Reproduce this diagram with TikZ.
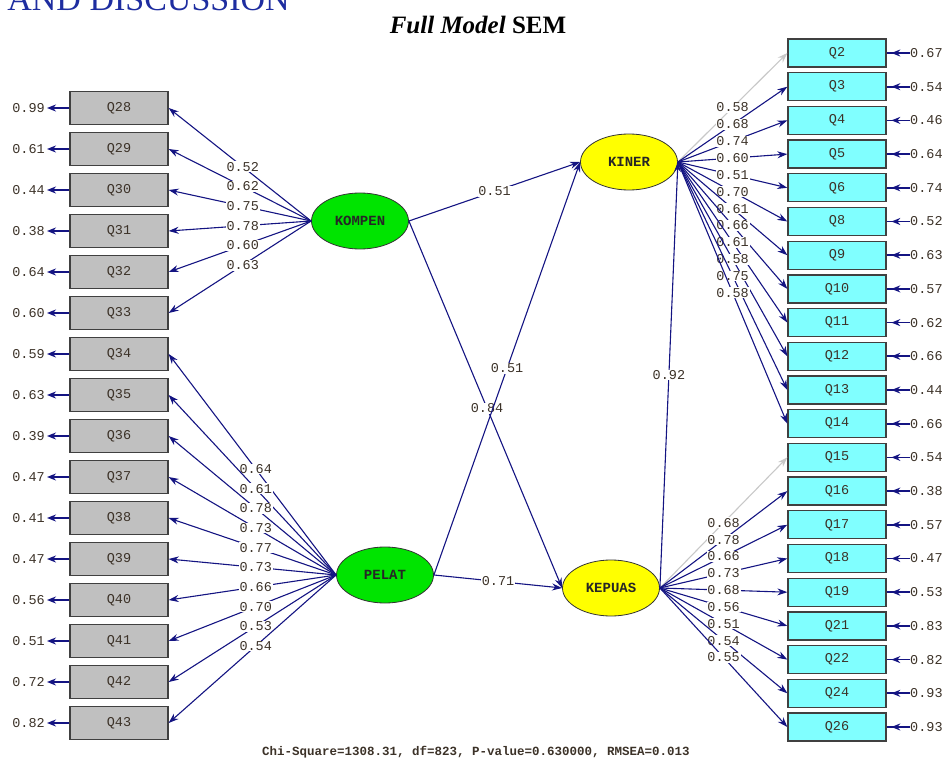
\documentclass[tikz,border=0pt]{standalone}
\usepackage{fontspec}
\setmainfont{Liberation Serif}
\newfontfamily\lisfont{Liberation Mono}
\usetikzlibrary{arrows.meta,shapes.geometric,decorations.markings}

\definecolor{pathblue}{RGB}{20,20,130}
\definecolor{boxgray}{RGB}{192,192,192}
\definecolor{boxcyan}{RGB}{128,255,255}
\definecolor{latgreen}{RGB}{0,228,0}
\definecolor{latyellow}{RGB}{255,255,0}
\definecolor{numink}{RGB}{60,50,40}
\definecolor{fixgray}{RGB}{200,200,200}
\definecolor{headblue}{RGB}{30,45,160}

\tikzset{
  lbl/.style={font=\lisfont\fontsize{13.5}{13.5}\selectfont, text=numink},
  obsbox/.style={rectangle, draw=black!75, line width=1.3pt, minimum width=98pt,
    inner sep=0pt, lbl},
  obsleft/.style={obsbox, fill=boxgray, minimum height=33pt},
  obsright/.style={obsbox, fill=boxcyan, minimum height=28pt},
  latent/.style={ellipse, draw=black!80, line width=0.8pt, minimum width=97pt,
    minimum height=56pt, inner sep=0pt,
    font=\lisfont\bfseries\fontsize{14}{14}\selectfont, text=black!85},
  loadarrow/.style={draw=pathblue, line width=1.1pt, -{Stealth[length=10pt,width=7pt]}},
  structarrow/.style={draw=pathblue, line width=1.1pt, -{Stealth[length=10pt,width=7pt]}},
  coef/.style={lbl, fill=white, inner sep=0.8pt},
  errtxt/.style={lbl, inner sep=0pt},
  errleft/.style={draw=pathblue, line width=1.7pt, shorten >=2pt,
    -{Stealth[length=9pt,width=7pt]}},
  errright/.style={draw=pathblue, line width=1.7pt, postaction=decorate,
    decoration={markings, mark=at position 0.8 with {\arrow{Stealth[length=9pt,width=7pt]}}}},
}

\begin{document}
\begin{tikzpicture}[x=1pt, y=-1pt]
  \clip (0,0) rectangle (946,765);

  % headings
  \node[anchor=base east, font=\fontsize{34}{34}\selectfont, text=headblue, inner sep=0pt]
    (head) at (290,11) {AND DISCUSSION};
  \node[font=\fontsize{25}{25}\selectfont, inner sep=0pt] (title) at (478,25)
    {\textbf{\textit{Full Model}} \textbf{SEM}};

  % latent variables
  \node[latent, fill=latgreen]  (KOMPEN) at (360,221) {KOMPEN};
  \node[latent, fill=latyellow] (KINER)  at (629,162) {KINER};
  \node[latent, fill=latgreen]  (PELAT)  at (385,575) {PELAT};
  \node[latent, fill=latyellow] (KEPUAS) at (611,588) {KEPUAS};

  % exogenous indicators (left column)
  \foreach \q/\lat/\v/\e [count=\i from 0] in {
      28/KOMPEN/0.52/0.99, 29/KOMPEN/0.62/0.61, 30/KOMPEN/0.75/0.44,
      31/KOMPEN/0.78/0.38, 32/KOMPEN/0.60/0.64, 33/KOMPEN/0.63/0.60,
      34/PELAT/0.64/0.59, 35/PELAT/0.61/0.63, 36/PELAT/0.78/0.39,
      37/PELAT/0.73/0.47, 38/PELAT/0.77/0.41, 39/PELAT/0.73/0.47,
      40/PELAT/0.66/0.56, 41/PELAT/0.70/0.51, 42/PELAT/0.53/0.72,
      43/PELAT/0.54/0.82} {
    \node[obsleft] (Q\q) at (119,108+41*\i) {Q\q};
    \node[errtxt, anchor=east] (e\q) at (45,108+41*\i) {\e};
    \draw[errleft] (Q\q.west) -- (e\q.east);
    \draw[loadarrow] (\lat.west) -- node[coef, pos=0.48] {\v} (Q\q.east);
  }

  % endogenous indicators (right column)
  \foreach \q/\lat/\v/\e/\col [count=\i from 0] in {
      2/KINER/0.58/0.67/fixgray, 3/KINER/0.68/0.54/pathblue,
      4/KINER/0.74/0.46/pathblue, 5/KINER/0.60/0.64/pathblue,
      6/KINER/0.51/0.74/pathblue, 8/KINER/0.70/0.52/pathblue,
      9/KINER/0.61/0.63/pathblue, 10/KINER/0.66/0.57/pathblue,
      11/KINER/0.61/0.62/pathblue, 12/KINER/0.58/0.66/pathblue,
      13/KINER/0.75/0.44/pathblue, 14/KINER/0.58/0.66/pathblue,
      15/KEPUAS/0.68/0.54/fixgray, 16/KEPUAS/0.78/0.38/pathblue,
      17/KEPUAS/0.66/0.57/pathblue, 18/KEPUAS/0.73/0.47/pathblue,
      19/KEPUAS/0.68/0.53/pathblue, 21/KEPUAS/0.56/0.83/pathblue,
      22/KEPUAS/0.51/0.82/pathblue, 24/KEPUAS/0.54/0.93/pathblue,
      26/KEPUAS/0.55/0.93/pathblue} {
    \node[obsright] (Q\q) at (837,53+33.7*\i) {Q\q};
    \node[errtxt, anchor=west] (e\q) at (910,53+33.7*\i) {\e};
    \draw[errright] (e\q.west) -- (Q\q.east);
    \draw[loadarrow, draw=\col] (\lat.east) -- node[coef, pos=0.5] {\v} (Q\q.west);
  }

  % structural paths
  \draw[structarrow] (KOMPEN.east) -- node[coef, pos=0.5] {0.51} (KINER.west);
  \draw[structarrow] (KOMPEN.east) -- node[coef, pos=0.51] {0.84} (KEPUAS.west);
  \draw[structarrow] (PELAT.east) -- node[coef, pos=0.5] {0.51} (KINER.west);
  \draw[structarrow] (PELAT.east) -- node[coef, pos=0.5] {0.71} (KEPUAS.west);
  \draw[structarrow] (KEPUAS.east) -- node[coef, pos=0.5] {0.92} (KINER.east);

  % fit statistics
  \node[font=\lisfont\bfseries\fontsize{12.5}{12.5}\selectfont, text=numink, inner sep=0pt]
    (fitstats) at (476,752) {Chi-Square=1308.31, df=823, P-value=0.630000, RMSEA=0.013};
\end{tikzpicture}
\end{document}
